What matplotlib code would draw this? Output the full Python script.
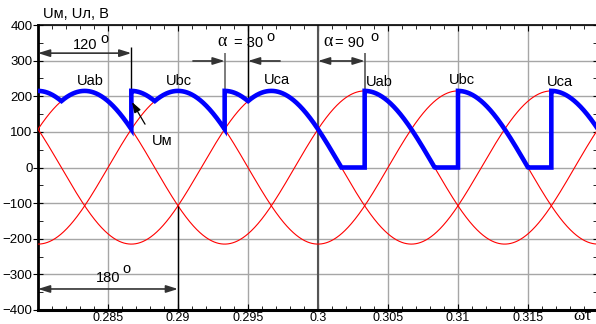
import numpy as np
import matplotlib.pyplot as plt
from matplotlib.ticker import MultipleLocator

plt.rcParams['font.family'] = ['Liberation Sans', 'DejaVu Sans']

# line voltages
U_AMP = 215.0
FREQ = 50.0
T_START, T_END = 0.28, 0.32
PHASE_DEG = {"Uab": 30.0, "Ubc": -90.0, "Uca": 150.0}

# rectified voltage Uм, pieces in electrical degrees from T_START,
# each piece is the max of the listed voltages ("-" means inverted)
UM_PIECES = [
    (0, 120, ["-Ubc", "Uab"]),
    (120, 240, ["-Uca", "Ubc"]),
    (240, 360, ["-Uab", "Uca"]),
    (360, 420, ["Uca", "0"]),
    (420, 540, ["Uab", "0"]),
    (540, 660, ["Ubc", "0"]),
    (660, 720, ["Uca", "0"]),
]

PEAK_LABELS = ["Uab", "Ubc", "Uca", "Uab", "Ubc", "Uca"]
PEAK_T = [0.28375, 0.29004, 0.29704, 0.3044, 0.31025, 0.31729]
PEAK_V = [243, 243, 246, 240, 246, 240]

X_TICKS = [0.285, 0.29, 0.295, 0.3, 0.305, 0.31, 0.315]
X_TICK_LABELS = ["0.285", "0.29", "0.295", "0.3", "0.305", "0.31", "0.315"]
Y_TICKS = list(range(-400, 401, 100))


def deg2t(deg):
    return T_START + deg / 360.0 / FREQ


def volt(name, t):
    if name == "0":
        return np.zeros_like(t)
    sign = 1.0
    if name.startswith("-"):
        sign = -1.0
        name = name[1:]
    return sign * U_AMP * np.sin(2 * np.pi * FREQ * t + np.radians(PHASE_DEG[name]))


fig = plt.figure(figsize=(5.96, 3.24), dpi=100)
ax = fig.add_axes([38 / 596, 14 / 324, 560 / 596, 285 / 324])

t = np.linspace(T_START, T_END, 1200)
for name in PHASE_DEG:
    ax.plot(t, volt(name, t), color='red', lw=0.8, zorder=3)

um_t, um_v = [], []
for d0, d1, names in UM_PIECES:
    tt = np.linspace(deg2t(d0), deg2t(d1), 200)
    vv = np.max([volt(n, tt) for n in names], axis=0)
    um_t.extend(tt)
    um_v.extend(vv)
ax.plot(um_t, um_v, color='#0000ff', lw=3.3, zorder=5, solid_joinstyle='miter')

for lab, x, y in zip(PEAK_LABELS, PEAK_T, PEAK_V):
    ax.text(x, y, lab, ha='center', va='center', fontsize=10.5, zorder=6)

# helper lines
ax.vlines(deg2t(120), 107.5, 338, color='black', lw=1, zorder=4)
ax.vlines(deg2t(240), 215, 321, color='#666666', lw=1.2, zorder=4)
ax.vlines(deg2t(270), 186, 400, color='black', lw=1, zorder=4)
ax.vlines(deg2t(360), -400, 400, color='#555555', lw=1.5, zorder=2)
ax.vlines(deg2t(420), 215, 321, color='#555555', lw=1.2, zorder=4)
ax.vlines(deg2t(180), -400, -107.5, color='black', lw=1, zorder=4)

arr2 = dict(arrowstyle='<|-|>,head_length=0.7,head_width=0.22', color='#333333', lw=1.2,
            shrinkA=0, shrinkB=0)
arr1 = dict(arrowstyle='-|>,head_length=0.7,head_width=0.22', color='#333333', lw=1.2,
            shrinkA=0, shrinkB=0)

# 120 deg
ax.annotate('', xy=(deg2t(120), 321), xytext=(T_START, 321), arrowprops=arr2, zorder=6)
ax.text(0.28336, 333, '120', ha='center', va='baseline', fontsize=10.5)
ax.text(0.28472, 362, 'o', ha='center', va='center', fontsize=10.5)

# alpha = 30
ax.annotate('', xy=(deg2t(240), 299), xytext=(0.29107, 299), arrowprops=arr1, zorder=6)
ax.annotate('', xy=(deg2t(270), 299), xytext=(0.29729, 299), arrowprops=arr1, zorder=6)
ax.text(0.29318, 340, 'α', ha='center', va='baseline', fontsize=13, family='Liberation Serif')
ax.text(0.29507, 338, '= 30', ha='center', va='baseline', fontsize=10.5)
ax.text(0.29660, 365, 'o', ha='center', va='center', fontsize=10.5)

# alpha = 90
ax.annotate('', xy=(deg2t(420), 299), xytext=(deg2t(360), 299), arrowprops=arr2, zorder=6)
ax.text(0.30071, 340, 'α', ha='center', va='baseline', fontsize=13, family='Liberation Serif')
ax.text(0.30229, 338, '= 90', ha='center', va='baseline', fontsize=10.5)
ax.text(0.30403, 365, 'o', ha='center', va='center', fontsize=10.5)

# 180 deg
ax.annotate('', xy=(deg2t(180), -341), xytext=(T_START, -341), arrowprops=arr2, zorder=6)
ax.text(0.285, -321, '180', ha='center', va='baseline', fontsize=10.5)
ax.text(0.28632, -286, 'o', ha='center', va='center', fontsize=10.5)

# Uм pointer
ax.annotate('Uм', xy=(0.28671, 184), xytext=(0.28886, 74), ha='center', va='center',
            fontsize=10.5, zorder=6,
            arrowprops=dict(arrowstyle='-|>,head_length=0.6,head_width=0.2', color='black',
                            lw=0.9, shrinkA=6, shrinkB=0, relpos=(0.0, 0.9)))

ax.set_xlim(T_START, T_END)
ax.set_ylim(-400, 400)
ax.set_xticks(X_TICKS)
ax.set_xticklabels(X_TICK_LABELS)
ax.set_yticks(Y_TICKS)
ax.xaxis.set_minor_locator(MultipleLocator(0.001))
ax.yaxis.set_minor_locator(MultipleLocator(50))
ax.grid(True, which='major', color='#a6a6a6', lw=1)
ax.set_axisbelow(True)

ax.tick_params(axis='x', which='both', direction='in', top=True, bottom=True,
               labelsize=9, pad=1.2)
ax.tick_params(axis='x', which='major', length=4)
ax.tick_params(axis='x', which='minor', length=3)
ax.tick_params(axis='y', which='major', direction='inout', length=7, left=True, right=True,
               labelsize=9.5, pad=0.5)
ax.tick_params(axis='y', which='minor', direction='in', length=3.5, left=True, right=True)

ax.spines['bottom'].set_linewidth(2.2)
ax.spines['left'].set_linewidth(2)
ax.spines['top'].set_linewidth(1.2)
ax.spines['right'].set_linewidth(1.2)

fig.text(43 / 596, 1 - 14 / 324, 'Uм, Uл, В', ha='left', va='center', fontsize=10.5)
fig.text(573 / 596, 1 - 316 / 324, 'ωτ', ha='left', va='center', fontsize=12.5,
         family='Liberation Serif')

fig.savefig('out.png', dpi=100)
